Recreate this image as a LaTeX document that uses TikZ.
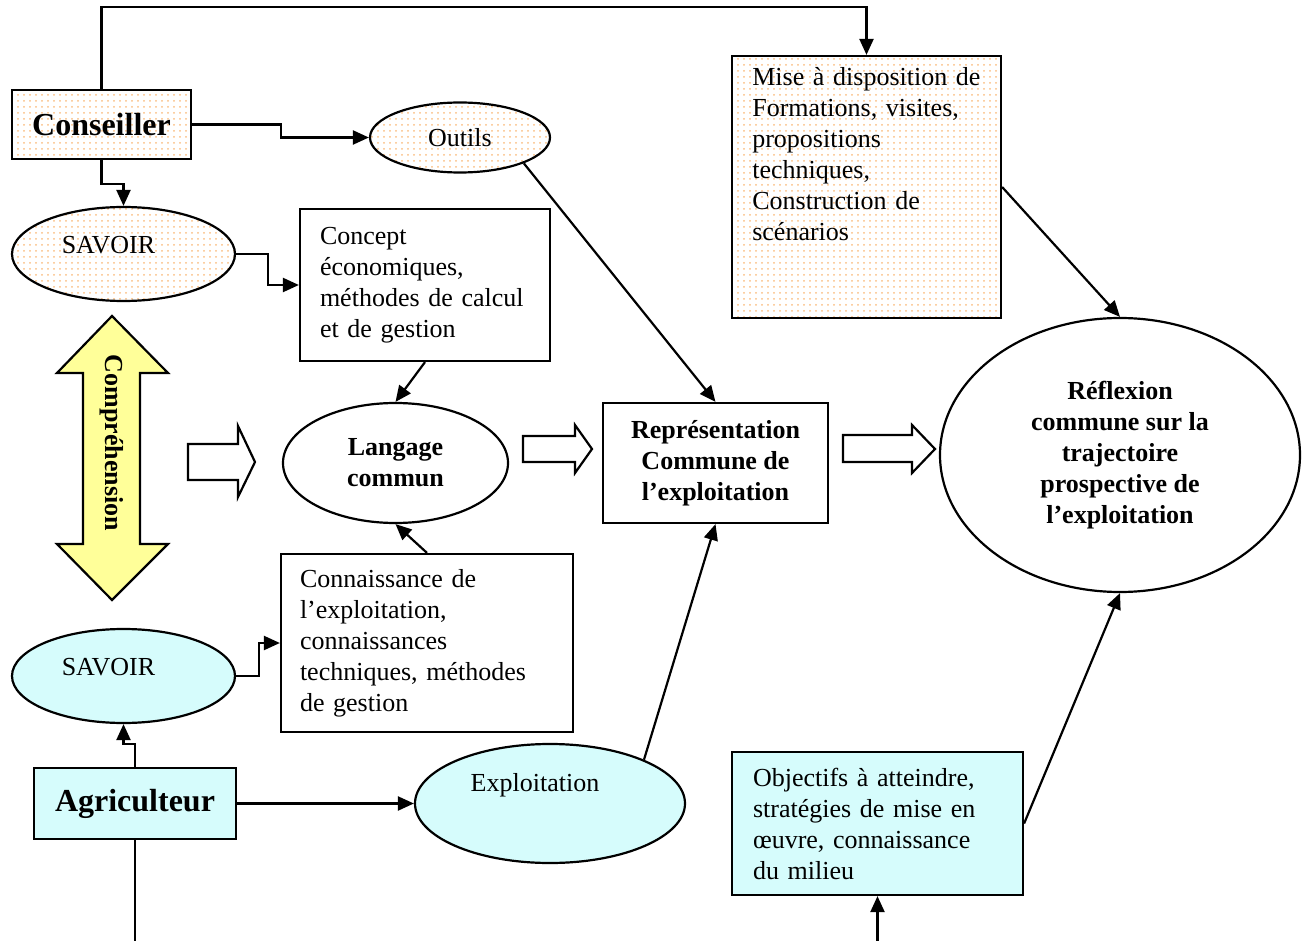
\documentclass[tikz,border=0pt]{standalone}
\usepackage{fontspec}
\setmainfont{Liberation Serif}
\usetikzlibrary{arrows.meta,shapes.geometric,patterns,calc}
\definecolor{peachdot}{RGB}{250,190,130}
\definecolor{agricyan}{RGB}{214,252,252}
\definecolor{comprfill}{RGB}{255,255,153}

\begin{document}
\begin{tikzpicture}[
  x=0.5pt, y=-0.5pt,
  font=\fontsize{13}{15.5}\selectfont,
  arrow/.style={-{Triangle[length=8pt,width=7pt]}, line width=1.1pt},
  plain/.style={line width=1.1pt},
  bold/.style={font=\fontsize{13}{15.5}\selectfont\bfseries},
  block/.style={draw, line width=1.1pt, inner sep=0pt, align=left},
  conseilbox/.style={pattern=dots, pattern color=peachdot},
  agribox/.style={fill=agricyan},
  oval/.style={ellipse, draw, line width=1.1pt, inner sep=0pt, align=center},
  actor/.style={block, font=\fontsize{16}{19}\selectfont\bfseries},
  hollow/.style={draw, line width=1.1pt, fill=white}
]
\useasboundingbox (0,0) rectangle (1307,941);

% cote conseiller
\node[actor, conseilbox, minimum width=89.5pt, minimum height=34.5pt] (conseiller) at (101.5,124.5) {Conseiller};
\node[oval, conseilbox, minimum width=90pt, minimum height=35pt] (outils) at (460,137.5) {Outils};
\node[oval, conseilbox, minimum width=111.5pt, minimum height=47pt,
  label={[xshift=-7.5pt,yshift=4.5pt]center:SAVOIR}] (savoirc) at (123.5,254) {};
\node[block, text width=105pt, inner xsep=10pt, minimum height=76pt] (concept) at (425,285)
  {Concept\\économiques,\\méthodes de calcul\\et de gestion};
\node[block, conseilbox, minimum width=134.5pt, minimum height=131pt] (mise) at (866.5,187) {};
\node[anchor=north west, inner sep=0pt, text width=118pt, align=left] (misetext)
  at ([xshift=10.5pt,yshift=-6pt]mise.north west)
  {Mise à disposition de\\Formations, visites,\\propositions\\techniques,\\Construction de\\scénarios};

% centre
\node[oval, bold, minimum width=112.5pt, minimum height=60pt] (langage) at (395.5,463) {Langage\\commun};
\node[block, bold, align=center, minimum width=112.5pt, minimum height=60pt] (repres) at (715.5,463)
  {Représentation\\Commune de\\l’exploitation};
\node[oval, bold, minimum width=180pt, minimum height=137pt] (reflexion) at (1120,455)
  {Réflexion\\commune sur la\\trajectoire\\prospective de\\l’exploitation};

% cote agriculteur
\node[block, text width=127pt, inner xsep=9.5pt, minimum height=89pt] (connaissance) at (427,643)
  {Connaissance de\\l’exploitation,\\connaissances\\techniques, méthodes\\de gestion};
\node[oval, agribox, minimum width=111.5pt, minimum height=47pt,
  label={[xshift=-7.5pt,yshift=4.5pt]center:SAVOIR}] (savoira) at (123.5,676) {};
\node[actor, agribox, minimum width=101pt, minimum height=35.5pt] (agriculteur) at (135,803.5) {Agriculteur};
\node[oval, agribox, minimum width=135pt, minimum height=59.5pt,
  label={[xshift=-7.5pt,yshift=9pt]center:Exploitation}] (exploitation) at (550,803.5) {};
\node[block, agribox, text width=124.5pt, inner xsep=10.5pt, minimum height=71.5pt] (objectifs) at (877.5,823.5)
  {Objectifs à atteindre,\\stratégies de mise en\\œuvre, connaissance\\du milieu};

\coordinate (agribottom) at (135,941);
\coordinate (objbottom) at (877.5,941);

% comprehension
\draw[plain, fill=comprfill] (112,316) -- (168,373) -- (140,373) -- (140,544) -- (168,544)
  -- (112,600) -- (57,544) -- (83,544) -- (83,373) -- (57,373) -- cycle;
\node[bold, rotate=-90] (comprehension) at (112,443) {Compréhension};

% grosses fleches
\draw[hollow] (188,444) -- (238,444) -- (238,426) -- (255,462) -- (238,497) -- (238,480) -- (188,480) -- cycle;
\draw[hollow] (523,436) -- (575,436) -- (575,425) -- (592,449) -- (575,473) -- (575,462) -- (523,462) -- cycle;
\draw[hollow] (843,435) -- (912,435) -- (912,425) -- (935,449) -- (912,473) -- (912,462) -- (843,462) -- cycle;

\draw[arrow] (conseiller.north) -- ++(0,-82) -| (mise.north);
\draw[arrow] (conseiller.east) -- ++(89,0) |- (outils.west);
\draw[arrow] (conseiller.south) -- ++(0,24) -| (savoirc.north);
\draw[arrow] (savoirc.east) -- ++(32,0) |- (concept.west);
\draw[arrow] (concept.south) -- (langage.north);
\draw[arrow] (outils.-22) -- (repres.north);
\draw[arrow] (connaissance.north) -- (langage.south);
\draw[arrow] (mise.east) -- (reflexion.north);
\draw[arrow] (agriculteur.north) -- ++(0,-23) -| (savoira.south);
\draw[arrow] (savoira.east) -- ++(23,0) |- (connaissance.west);
\draw[arrow] (agriculteur.east) -- (exploitation.west);
\draw[arrow] (exploitation.25) -- (repres.south);
\draw[arrow] (objectifs.east) -- (reflexion.south);
\draw[plain] (agriculteur.south) -- (agribottom);
\draw[arrow] (objbottom) -- (objectifs.south);

\end{tikzpicture}
\end{document}
